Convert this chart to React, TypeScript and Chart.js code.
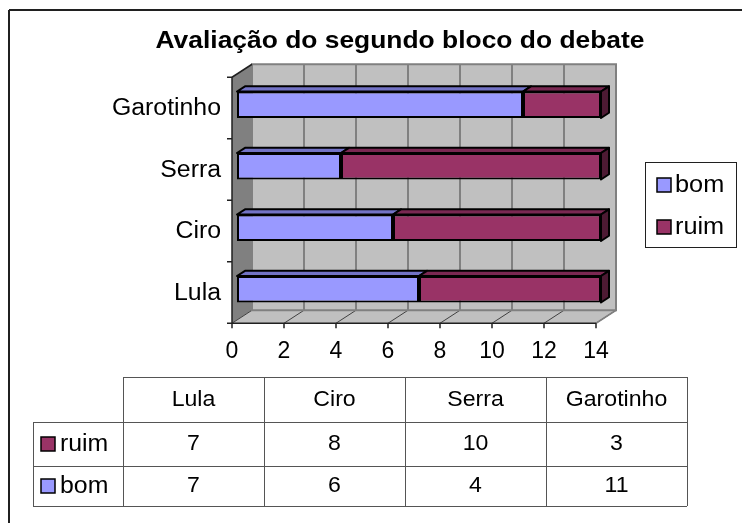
import React, { useEffect, useRef } from 'react';
import { Chart, registerables } from 'chart.js';

Chart.register(...registerables);

const categories = ['Lula', 'Ciro', 'Serra', 'Garotinho'];
const bomValues = [7, 6, 4, 11];
const ruimValues = [7, 8, 10, 3];
const xTicks = [0, 2, 4, 6, 8, 10, 12, 14];
const titleText = 'Avaliação do segundo bloco do debate';
const seriesNames = ['bom', 'ruim'];

const FONT = '"Liberation Sans", Arial, sans-serif';
const COLORS = {
  bom: { front: '#9999FF', top: '#7373C6', side: '#5C5C99' },
  ruim: { front: '#993366', top: '#7A2852', side: '#4D1A33' },
};
// 3D depth vector of the plot
const DEPTH = { x: 20, y: -13 };
const FRONT = -0.25;
const BACK = 0.75;
const BAR_DEPTH = 0.4;

function drawText(ctx: CanvasRenderingContext2D, s: string, x: number, y: number, size: number, bold: boolean, align: CanvasTextAlign, sx = 1) {
  ctx.save();
  ctx.font = `${bold ? 'bold ' : ''}${size}px ${FONT}`;
  ctx.fillStyle = '#000';
  ctx.textBaseline = 'middle';
  ctx.textAlign = align;
  ctx.translate(x, y);
  ctx.scale(sx, 1);
  ctx.fillText(s, 0, 0);
  ctx.restore();
}

function poly(ctx: CanvasRenderingContext2D, pts: number[][], fill: string | null, stroke: string | null, lw = 1) {
  ctx.beginPath();
  ctx.moveTo(pts[0][0], pts[0][1]);
  for (let i = 1; i < pts.length; i++) ctx.lineTo(pts[i][0], pts[i][1]);
  ctx.closePath();
  if (fill) { ctx.fillStyle = fill; ctx.fill(); }
  if (stroke) { ctx.strokeStyle = stroke; ctx.lineWidth = lw; ctx.stroke(); }
}

function line(ctx: CanvasRenderingContext2D, x1: number, y1: number, x2: number, y2: number, color: string, lw: number) {
  ctx.beginPath();
  ctx.moveTo(x1, y1);
  ctx.lineTo(x2, y2);
  ctx.strokeStyle = color;
  ctx.lineWidth = lw;
  ctx.stroke();
}

const threeD = {
  id: 'threeD',
  beforeDatasetsDraw(chart: any) {
    const ctx: CanvasRenderingContext2D = chart.ctx;
    const { left: L, right: R, top: T, bottom: B } = chart.chartArea;
    const xs = chart.scales.x;
    const fx = DEPTH.x * FRONT, fy = DEPTH.y * FRONT;
    const bx = DEPTH.x * BACK, by = DEPTH.y * BACK;
    ctx.save();
    // back wall
    ctx.fillStyle = '#C0C0C0';
    ctx.fillRect(L + bx, T + by, R - L, B - T);
    // left side wall
    poly(ctx, [[L + fx, T + fy], [L + bx, T + by], [L + bx, B + by], [L + fx, B + fy]], '#808080', null);
    // floor
    poly(ctx, [[L + fx, B + fy], [L + bx, B + by], [R + bx, B + by], [R + fx, B + fy]], '#C0C0C0', null);
    // grid lines
    for (const v of xTicks) {
      const x = xs.getPixelForValue(v);
      line(ctx, x + bx, T + by, x + bx, B + by, '#808080', 2);
      line(ctx, x + fx, B + fy, x + bx, B + by, '#404040', 1);
    }
    // wall outlines
    ctx.strokeStyle = '#808080';
    ctx.lineWidth = 2;
    ctx.strokeRect(L + bx, T + by, R - L, B - T);
    line(ctx, R + fx, B + fy, R + bx, B + by, '#808080', 1.5);
    line(ctx, L + fx, T + fy, L + bx, T + by, '#202020', 1.5);
    // axes
    line(ctx, L + fx, B + fy, R + fx, B + fy, '#202020', 1.5);
    line(ctx, L + fx, T + fy, L + fx, B + fy, '#202020', 1.5);
    for (const v of xTicks) {
      const x = xs.getPixelForValue(v) + fx;
      line(ctx, x, B + fy, x, B + fy + 5, '#202020', 1.5);
    }
    const n = categories.length;
    for (let i = 0; i <= n; i++) {
      const y = T + fy + (i * (B - T)) / n;
      line(ctx, L + fx - 5, y, L + fx, y, '#202020', 1.5);
    }
    ctx.restore();
  },
  afterDatasetsDraw(chart: any) {
    const ctx: CanvasRenderingContext2D = chart.ctx;
    const dx = DEPTH.x * BAR_DEPTH, dy = DEPTH.y * BAR_DEPTH;
    const nds = chart.data.datasets.length;
    ctx.save();
    ctx.lineJoin = 'round';
    for (let di = 0; di < nds; di++) {
      const meta = chart.getDatasetMeta(di);
      const col = (COLORS as any)[seriesNames[di]];
      for (const el of meta.data as any[]) {
        const x0 = Math.min(el.base, el.x);
        const x1 = Math.max(el.base, el.x);
        const top = el.y - el.height / 2;
        const bot = el.y + el.height / 2;
        poly(ctx, [[x0, top], [x0 + dx, top + dy], [x1 + dx, top + dy], [x1, top]], col.top, '#000', 2);
        if (di === nds - 1) {
          poly(ctx, [[x1, top], [x1 + dx, top + dy], [x1 + dx, bot + dy], [x1, bot]], col.side, '#000', 2);
        }
      }
    }
    ctx.restore();
  },
  afterDraw(chart: any) {
    const ctx: CanvasRenderingContext2D = chart.ctx;
    const { bottom: B } = chart.chartArea;
    const xs = chart.scales.x;
    const ys = chart.scales.y;
    const fx = DEPTH.x * FRONT, fy = DEPTH.y * FRONT;
    ctx.save();
    // outer border
    line(ctx, 9, 10, 742, 10, '#202020', 2);
    line(ctx, 9, 10, 9, 523, '#202020', 2);
    // title
    drawText(ctx, titleText, 400, 41, 24, true, 'center', 1.1);
    // category labels
    categories.forEach((c, i) => {
      drawText(ctx, c, 221, ys.getPixelForValue(i) + fy + 1, 23, false, 'right', 1.08);
    });
    // x tick labels
    for (const v of xTicks) {
      drawText(ctx, String(v), xs.getPixelForValue(v) + fx, B + 32, 23, false, 'center', 1.0);
    }
    // legend
    ctx.strokeStyle = '#202020';
    ctx.lineWidth = 1;
    ctx.strokeRect(645.5, 162.5, 91, 85);
    const legendY = [185, 227];
    seriesNames.forEach((s, i) => {
      const c = (COLORS as any)[s];
      ctx.fillStyle = c.front;
      ctx.fillRect(657, legendY[i] - 7, 14, 14);
      ctx.strokeStyle = '#000';
      ctx.lineWidth = 1.5;
      ctx.strokeRect(657, legendY[i] - 7, 14, 14);
      drawText(ctx, s, 675, legendY[i] + 1, 23, false, 'left', 1.1);
    });
    // data table
    const colX = [33, 123, 264, 405, 546, 687];
    const rowY = [377, 422, 466, 506];
    const tc = '#555';
    line(ctx, colX[1], rowY[0] + 0.5, colX[5], rowY[0] + 0.5, tc, 1);
    for (let r = 1; r < rowY.length; r++) line(ctx, colX[0], rowY[r] + 0.5, colX[5], rowY[r] + 0.5, tc, 1);
    line(ctx, colX[0] + 0.5, rowY[1], colX[0] + 0.5, rowY[3], tc, 1);
    for (let c = 1; c < colX.length; c++) line(ctx, colX[c] + 0.5, rowY[0], colX[c] + 0.5, rowY[3], tc, 1);
    categories.forEach((c, i) => {
      const cx = (colX[i + 1] + colX[i + 2]) / 2;
      drawText(ctx, c, cx, (rowY[0] + rowY[1]) / 2, 22, false, 'center', 1.05);
      drawText(ctx, String(ruimValues[i]), cx, (rowY[1] + rowY[2]) / 2, 22, false, 'center', 1.05);
      drawText(ctx, String(bomValues[i]), cx, (rowY[2] + rowY[3]) / 2, 22, false, 'center', 1.05);
    });
    const rows = [{ s: 'ruim', y: (rowY[1] + rowY[2]) / 2 }, { s: 'bom', y: (rowY[2] + rowY[3]) / 2 }];
    rows.forEach(({ s, y }) => {
      const c = (COLORS as any)[s];
      ctx.fillStyle = c.front;
      ctx.fillRect(41, y - 7, 14, 14);
      ctx.strokeStyle = '#000';
      ctx.lineWidth = 1.5;
      ctx.strokeRect(41, y - 7, 14, 14);
      drawText(ctx, s, 60, y + 1, 23, false, 'left', 1.08);
    });
    ctx.restore();
  },
};

export default function App() {
  const ref = useRef<HTMLCanvasElement | null>(null);
  useEffect(() => {
    document.body.style.margin = '0';
    const canvas = ref.current;
    if (!canvas) return;
    const chart = new Chart(canvas, {
      type: 'bar',
      data: {
        labels: categories,
        datasets: [
          { label: seriesNames[0], data: bomValues, backgroundColor: COLORS.bom.front, borderColor: '#000', borderWidth: 2, borderSkipped: false },
          { label: seriesNames[1], data: ruimValues, backgroundColor: COLORS.ruim.front, borderColor: '#000', borderWidth: 2, borderSkipped: false },
        ],
      },
      options: {
        indexAxis: 'y',
        responsive: false,
        animation: false,
        devicePixelRatio: 1,
        layout: { padding: { left: 237, right: 141, top: 74, bottom: 203 } },
        datasets: { bar: { categoryPercentage: 1, barPercentage: 0.43 } },
        scales: {
          x: { type: 'linear', min: 0, max: 14, stacked: true, display: false },
          y: { type: 'category', stacked: true, reverse: true, display: false },
        },
        plugins: { legend: { display: false }, title: { display: false }, tooltip: { enabled: false } },
      },
      plugins: [threeD],
    } as any);
    return () => chart.destroy();
  }, []);
  return <canvas ref={ref} width={742} height={523} style={{ display: 'block', width: 742, height: 523 }} />;
}
